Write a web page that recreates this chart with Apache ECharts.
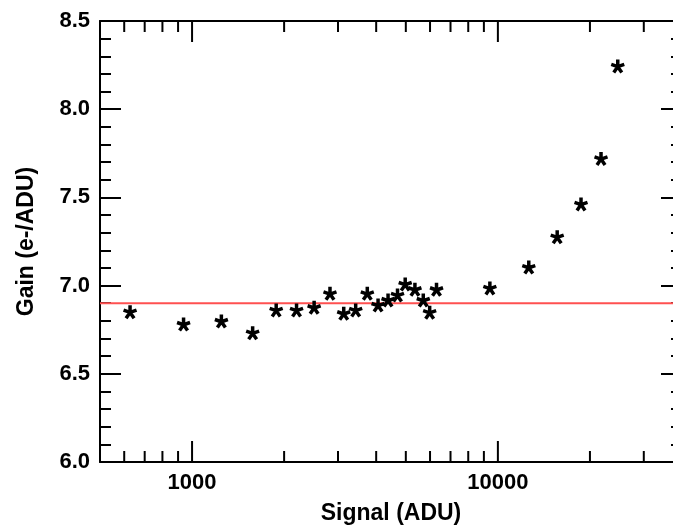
<!DOCTYPE html>
<html>
<head>
<meta charset="utf-8">
<script src="https://cdn.jsdelivr.net/npm/echarts@6/dist/echarts.min.js"></script>
<style>
html,body{margin:0;padding:0;background:#fff;}
#chart{width:673px;height:526px;}
</style>
</head>
<body>
<div id="chart"></div>
<script>
// Data
var signal = [627, 938, 1247, 1578, 1884, 2196, 2507, 2825, 3133, 3428, 3741, 4057, 4374, 4697, 4977, 5355, 5702, 5983, 6300, 9415, 12620, 15630, 18700, 21740, 24660];
var gain = [6.852, 6.782, 6.799, 6.733, 6.862, 6.862, 6.877, 6.956, 6.843, 6.862, 6.956, 6.890, 6.918, 6.947, 7.009, 6.979, 6.918, 6.849, 6.979, 6.987, 7.105, 7.277, 7.463, 7.721, 8.245];
var refGain = 6.9;
var xMin = 500, xMax = 40000;
var yMin = 6.0, yMax = 8.5, yStep = 0.5;
var xMinorTicks = [600, 700, 800, 900, 2000, 3000, 4000, 5000, 6000, 7000, 8000, 9000, 20000, 30000];
var xMajorTicks = [1000, 10000];

var FONT = "'Liberation Sans', Arial, sans-serif";
var MAJOR = 21, MINOR = 11;

var tickData = [];
xMinorTicks.forEach(function (v) { tickData.push([v, yMin, MINOR]); });
xMajorTicks.forEach(function (v) { tickData.push([v, yMin, MAJOR]); });

var points = signal.map(function (s, i) { return [s, gain[i]]; });

var asterisk = 'path://M0 0L0 -10M0 0L9.51 -3.09M0 0L5.88 8.09M0 0L-5.88 8.09M0 0L-9.51 -3.09';

var chart = echarts.init(document.getElementById('chart'));
chart.setOption({
  animation: false,
  backgroundColor: '#fff',
  grid: { left: 100, top: 21, width: 582, height: 441, containLabel: false, outerBoundsMode: 'none' },
  xAxis: [{
    type: 'log', logBase: 10, min: xMin, max: xMax, position: 'bottom',
    name: 'Signal (ADU)', nameLocation: 'middle', nameGap: 40,
    nameTextStyle: { fontFamily: FONT, fontWeight: 'bold', fontSize: 23, color: '#000' },
    axisLine: { show: true, lineStyle: { color: '#000', width: 2 } },
    axisTick: { show: false },
    splitLine: { show: false },
    axisLabel: {
      fontFamily: FONT, fontWeight: 'bold', fontSize: 22, color: '#000', margin: 10,
      formatter: function (v) {
        var l = Math.log10(v);
        return Math.abs(l - Math.round(l)) < 1e-6 ? String(Math.round(v)) : '';
      }
    }
  }, {
    type: 'log', logBase: 10, min: xMin, max: xMax, position: 'top',
    axisLine: { show: true, lineStyle: { color: '#000', width: 2 } },
    axisTick: { show: false }, axisLabel: { show: false }, splitLine: { show: false }
  }],
  yAxis: [{
    type: 'value', min: yMin, max: yMax, interval: yStep, position: 'left',
    name: 'Gain (e-/ADU)', nameLocation: 'middle', nameGap: 62,
    nameTextStyle: { fontFamily: FONT, fontWeight: 'bold', fontSize: 23, color: '#000' },
    axisLine: { show: true, lineStyle: { color: '#000', width: 2 } },
    axisTick: { show: true, inside: true, length: MAJOR, lineStyle: { color: '#000', width: 2 } },
    minorTick: { show: true, splitNumber: 5, length: MINOR, lineStyle: { color: '#000', width: 2 } },
    splitLine: { show: false },
    axisLabel: {
      fontFamily: FONT, fontWeight: 'bold', fontSize: 22, color: '#000', margin: 10,
      formatter: function (v) { return v.toFixed(1); }
    }
  }, {
    type: 'value', min: yMin, max: yMax, interval: yStep, position: 'right',
    axisLine: { show: true, lineStyle: { color: '#000', width: 2 } },
    axisTick: { show: true, inside: true, length: MAJOR, lineStyle: { color: '#000', width: 2 } },
    minorTick: { show: true, splitNumber: 5, length: MINOR, lineStyle: { color: '#000', width: 2 } },
    splitLine: { show: false }, axisLabel: { show: false }
  }],
  series: [{
    type: 'custom',
    silent: true,
    clip: false,
    data: tickData,
    renderItem: function (params, api) {
      var v = api.value(0), len = api.value(2);
      var b = api.coord([v, yMin]);
      var t = api.coord([v, yMax]);
      var st = { stroke: '#000', lineWidth: 2 };
      return {
        type: 'group',
        children: [
          { type: 'line', shape: { x1: b[0], y1: b[1], x2: b[0], y2: b[1] - len }, style: st },
          { type: 'line', shape: { x1: t[0], y1: t[1], x2: t[0], y2: t[1] + len }, style: st }
        ]
      };
    }
  }, {
    type: 'line',
    data: [[xMin, refGain], [xMax, refGain]],
    symbol: 'none',
    silent: true,
    lineStyle: { color: '#ff5050', width: 2 },
    z: 1
  }, {
    type: 'scatter',
    data: points,
    symbol: asterisk,
    symbolSize: 13,
    itemStyle: { color: '#000', borderColor: '#000', borderWidth: 3.5, opacity: 1 },
    z: 3
  }]
});
</script>
</body>
</html>
